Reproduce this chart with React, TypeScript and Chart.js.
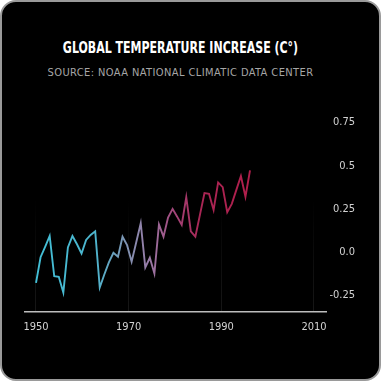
import React, { useEffect, useRef } from 'react';
import { Chart, registerables } from 'chart.js';

Chart.register(...registerables);

const title = 'GLOBAL TEMPERATURE INCREASE (C°)';
const subtitle = 'SOURCE: NOAA NATIONAL CLIMATIC DATA CENTER';

const years = [
  1950, 1951, 1952, 1953, 1954, 1955, 1956, 1957, 1958, 1959,
  1960, 1961, 1962, 1963, 1964, 1965, 1966, 1967, 1968, 1969,
  1970, 1971, 1972, 1973, 1974, 1975, 1976, 1977, 1978, 1979,
  1980, 1981, 1982, 1983, 1984, 1985, 1986, 1987, 1988, 1989,
  1990, 1991, 1992, 1993, 1994, 1995, 1996, 1997,
];

const anomalies = [
  -0.178, -0.03, 0.03, 0.093, -0.14, -0.143, -0.234, 0.027, 0.093, 0.045,
  -0.008, 0.07, 0.099, 0.12, -0.205, -0.13, -0.06, -0.004, -0.027, 0.089,
  0.04, -0.056, 0.055, 0.167, -0.089, -0.033, -0.124, 0.16, 0.089, 0.2,
  0.25, 0.205, 0.157, 0.318, 0.12, 0.089, 0.215, 0.341, 0.337, 0.244,
  0.403, 0.376, 0.231, 0.279, 0.36, 0.44, 0.32, 0.473,
];

const xTickYears = [1950, 1970, 1990, 2010];
const yTickValues = [-0.25, 0, 0.25, 0.5, 0.75];
const yTickLabels = ['-0.25', '0.0', '0.25', '0.5', '0.75'];

const colorStopYears = [1950, 1963, 1970, 1975, 1980, 1986, 1997];
const colorStopColors = ['#42bfd6', '#4db4cd', '#8193b2', '#9a7aa7', '#a2487c', '#a92655', '#b01e4b'];

const FONT = '"DejaVu Sans Condensed", "DejaVu Sans", sans-serif';

export default function App() {
  const canvasRef = useRef<HTMLCanvasElement | null>(null);

  useEffect(() => {
    document.body.style.margin = '0';
    const canvas = canvasRef.current;
    if (!canvas) return;

    const lineColor = (ctx: any) => {
      const chart = ctx.chart;
      const ca = chart.chartArea;
      const xs = chart.scales && chart.scales.xd;
      if (!ca || !xs) return colorStopColors[0];
      const x0 = xs.getPixelForValue(colorStopYears[0]);
      const x1 = xs.getPixelForValue(colorStopYears[colorStopYears.length - 1]);
      const g = chart.ctx.createLinearGradient(x0, 0, x1, 0);
      const span = colorStopYears[colorStopYears.length - 1] - colorStopYears[0];
      colorStopYears.forEach((yr, i) => {
        g.addColorStop((yr - colorStopYears[0]) / span, colorStopColors[i]);
      });
      return g;
    };

    const gridColor = (ctx: any) => {
      const ca = ctx.chart.chartArea;
      if (!ca) return 'rgba(255,255,255,0.06)';
      const g = ctx.chart.ctx.createLinearGradient(0, ca.top, 0, ca.bottom);
      g.addColorStop(0, 'rgba(255,255,255,0)');
      g.addColorStop(0.4, 'rgba(255,255,255,0)');
      g.addColorStop(1, 'rgba(255,255,255,0.09)');
      return g;
    };

    const chart = new Chart(canvas, {
      type: 'line',
      data: {
        datasets: [
          {
            data: years.map((yr, i) => ({ x: yr, y: anomalies[i] })),
            xAxisID: 'xd',
            yAxisID: 'y',
            borderColor: lineColor,
            borderWidth: 1.9,
            pointRadius: 0,
            tension: 0,
            fill: false,
          },
        ],
      },
      options: {
        responsive: false,
        animation: false,
        events: [],
        layout: { padding: { top: 122.5, left: 25, right: 26, bottom: 37.8 } },
        plugins: {
          legend: { display: false },
          tooltip: { enabled: false },
          title: { display: false },
        },
        scales: {
          x: {
            type: 'linear',
            position: 'bottom',
            min: 1947.63,
            max: 2012.59,
            afterBuildTicks: (s: any) => {
              s.ticks = xTickYears.map((v) => ({ value: v }));
            },
            ticks: {
              color: '#d2d2d2',
              font: { family: FONT, size: 11 },
              padding: 9,
              maxRotation: 0,
              autoSkip: false,
              callback: (v: any) => String(v),
            },
            grid: { color: gridColor, lineWidth: 1, drawTicks: false },
            border: { color: '#bdbdbd', width: 1.5 },
          },
          xd: {
            type: 'linear',
            display: false,
            min: 1947.58,
            max: 2013.69,
          },
          y: {
            type: 'linear',
            position: 'right',
            min: -0.347,
            max: 0.75,
            afterBuildTicks: (s: any) => {
              s.ticks = yTickValues.map((v) => ({ value: v }));
            },
            afterFit: (s: any) => {
              s.width = 29;
            },
            ticks: {
              color: '#d2d2d2',
              font: { family: FONT, size: 11 },
              padding: 4,
              crossAlign: 'far',
              callback: (v: any) => {
                const i = yTickValues.indexOf(v);
                return i >= 0 ? yTickLabels[i] : '';
              },
            },
            grid: { display: false },
            border: { display: false },
          },
        },
      },
    } as any);

    return () => chart.destroy();
  }, []);

  return (
    <div style={{ position: 'relative', width: 381, height: 381, background: '#fff', overflow: 'hidden' }}>
      <div
        style={{
          position: 'absolute',
          left: 0,
          top: 0,
          width: 381,
          height: 381,
          boxSizing: 'border-box',
          border: '2px solid #9a9a9a',
          borderRadius: 16,
          background: '#000',
        }}
      />
      <div
        style={{
          position: 'absolute',
          left: 0,
          top: 39,
          width: 361,
          textAlign: 'center',
          color: '#ffffff',
          fontFamily: FONT,
          fontWeight: 'bold',
          fontSize: 15,
          lineHeight: '18px',
          whiteSpace: 'nowrap',
          transform: 'scaleX(0.815)',
          transformOrigin: '180.5px 50%',
        }}
      >
        {title}
      </div>
      <div
        style={{
          position: 'absolute',
          left: 0,
          top: 66,
          width: 361,
          textAlign: 'center',
          color: '#a6a6a6',
          fontFamily: FONT,
          fontSize: 11,
          lineHeight: '14px',
          letterSpacing: '0.4px',
          whiteSpace: 'nowrap',
        }}
      >
        {subtitle}
      </div>
      <canvas
        ref={canvasRef}
        width={381}
        height={381}
        style={{ position: 'absolute', left: 0, top: 0, width: 381, height: 381 }}
      />
    </div>
  );
}
